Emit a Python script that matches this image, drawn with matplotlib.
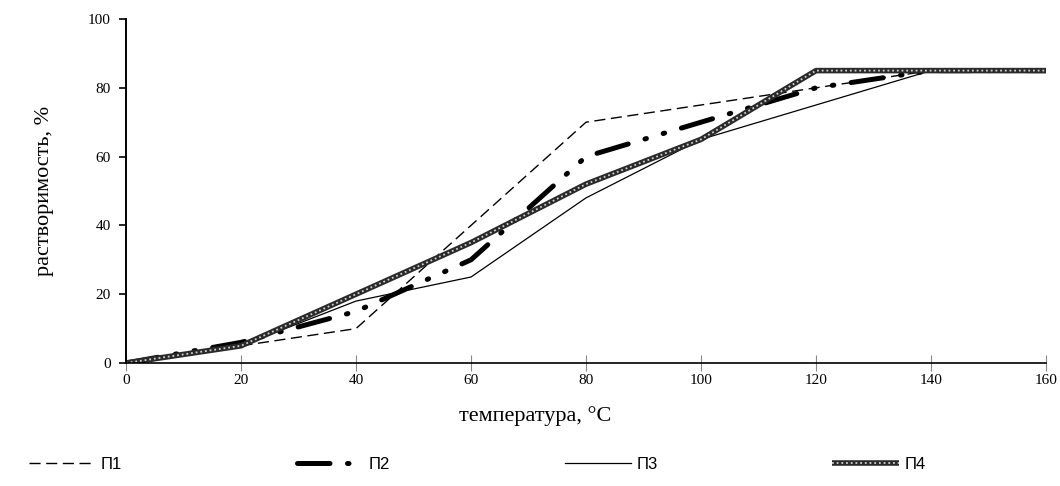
import matplotlib.pyplot as plt
from matplotlib.legend_handler import HandlerTuple

# temperature points, deg C
temps = [0, 20, 40, 60, 80, 100, 120, 140, 160]

# solubility, %
p1 = [0, 5, 10, 40, 70, 75, 80, 85, 85]
p2 = [0, 6, 15, 30, 60, 70, 80, 85, 85]
p3 = [0, 5, 18, 25, 48, 65, 75, 85, 85]
p4 = [0, 5, 20, 35, 52, 65, 85, 85, 85]

labels = ["П1", "П2", "П3", "П4"]

serif = "Liberation Serif"
sans = "Liberation Sans"

fig = plt.figure(figsize=(10.6, 4.86), dpi=100)
ax = fig.add_axes([0.1189, 0.2531, 0.8679, 0.7078])

l1, = ax.plot(temps, p1, color="black", linewidth=1.0, linestyle=(0, (8, 4)))
l2, = ax.plot(temps, p2, color="black", linewidth=3.6,
              linestyle=(0, (6.5, 3.5, 0.3, 3.5, 0.3, 3.5)),
              dash_capstyle="round")
l3, = ax.plot(temps, p3, color="black", linewidth=0.9)
# П4: thick dark line with light dots on top
l4a, = ax.plot(temps, p4, color="#2a2a2a", linewidth=4.0, solid_capstyle="butt")
l4b, = ax.plot(temps, p4, color="#cfcfcf", linewidth=1.3, linestyle=(0, (1, 1.6)))

ax.set_xlim(0, 160)
ax.set_ylim(0, 100)
ax.set_xticks(range(0, 161, 20))
ax.set_yticks(range(0, 101, 20))

ax.spines["top"].set_visible(False)
ax.spines["right"].set_visible(False)
ax.spines["left"].set_linewidth(1.4)
ax.spines["bottom"].set_linewidth(1.2)

ax.tick_params(axis="y", direction="out", length=5, width=1.2, pad=6, labelsize=11)
ax.tick_params(axis="x", direction="inout", length=12, width=0.8, color="#888888",
               pad=2, labelsize=11)
for t in ax.get_xticklabels() + ax.get_yticklabels():
    t.set_fontfamily(serif)

ax.set_xlabel("температура, °C", fontsize=16, fontfamily=serif)
ax.set_ylabel("растворимость, %", fontsize=16, fontfamily=serif)
ax.xaxis.set_label_coords(0.445, -0.125)
ax.yaxis.set_label_coords(-0.078, 0.5)

fig.legend([l1, l2, l3, (l4a, l4b)], labels,
           handler_map={tuple: HandlerTuple(ndivide=1, pad=0)},
           loc="center", bbox_to_anchor=(0.45, 0.045), ncol=4, frameon=False,
           handlelength=4.0, handletextpad=0.3, columnspacing=10.5,
           prop={"family": sans, "size": 12})

fig.savefig("out.png", dpi=100)
